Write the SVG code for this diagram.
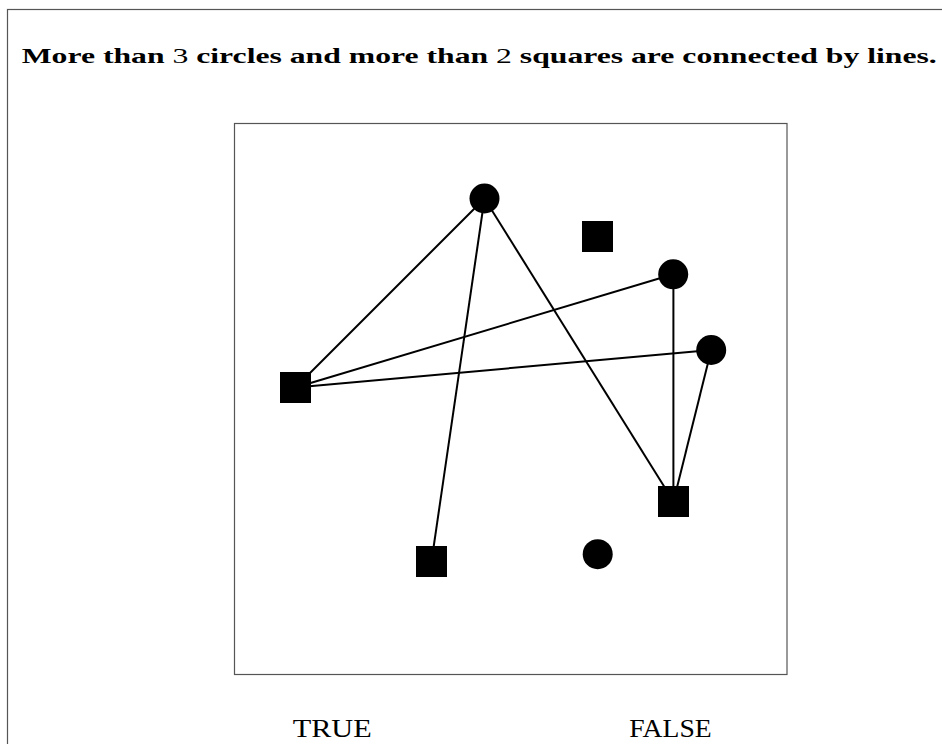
<svg xmlns="http://www.w3.org/2000/svg" width="942" height="744" viewBox="0 0 942 744">
<style>
.frame{fill:none;stroke:#555;stroke-width:1.2}
.edge{stroke:#000;stroke-width:2;fill:none}
.sq{fill:#000}
.ci{fill:#000}
.title{font-family:"Liberation Serif","DejaVu Serif",serif;font-weight:bold;font-size:21px;fill:#000}
.num{font-weight:normal}
.label{font-family:"Liberation Serif","DejaVu Serif",serif;font-size:26px;fill:#000}
</style>
<rect width="942" height="744" fill="#fff"/>
<rect class="frame" x="7.5" y="9.5" width="960" height="760"/>
<text class="title" x="21.7" y="62.5" textLength="915" lengthAdjust="spacingAndGlyphs">More than <tspan class="num">3</tspan> circles and more than <tspan class="num">2</tspan> squares are connected by lines.</text>
<rect class="frame" x="234.5" y="123.5" width="552.5" height="551"/>
<g id="connectors">
<line class="edge" x1="484.5" y1="198.5" x2="295.5" y2="387.5"/>
<line class="edge" x1="484.5" y1="198.5" x2="431.5" y2="561.5"/>
<line class="edge" x1="484.5" y1="198.5" x2="673.5" y2="501.5"/>
<line class="edge" x1="673.2" y1="274.3" x2="295.5" y2="387.5"/>
<line class="edge" x1="711.2" y1="350" x2="295.5" y2="387.5"/>
<line class="edge" x1="673.4" y1="274.3" x2="673.4" y2="501.5"/>
<line class="edge" x1="711.2" y1="350" x2="673.5" y2="501.5"/>
</g>
<g id="c1"><circle class="ci" cx="484.5" cy="198.5" r="15"/></g>
<g id="c2"><circle class="ci" cx="673.2" cy="274.3" r="15"/></g>
<g id="c3"><circle class="ci" cx="711.2" cy="350" r="15"/></g>
<g id="c4"><circle class="ci" cx="597.7" cy="554.2" r="15"/></g>
<g id="s1"><rect class="sq" x="582" y="221" width="31" height="31"/></g>
<g id="s2"><rect class="sq" x="280" y="372" width="31" height="31"/></g>
<g id="s3"><rect class="sq" x="416" y="546" width="31" height="31"/></g>
<g id="s4"><rect class="sq" x="658" y="486" width="31" height="31"/></g>
<g id="true-label"><text class="label" x="292.7" y="736.7" textLength="79" lengthAdjust="spacingAndGlyphs">TRUE</text></g>
<g id="false-label"><text class="label" x="629.3" y="736.7" textLength="82.4" lengthAdjust="spacingAndGlyphs">FALSE</text></g>
</svg>
